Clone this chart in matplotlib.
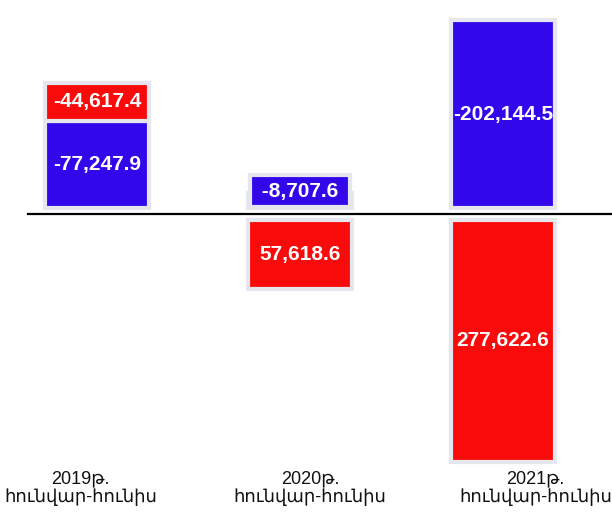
import numpy as np
import matplotlib
matplotlib.use("Agg")
import matplotlib.pyplot as plt
from matplotlib.transforms import offset_copy, blended_transform_factory

# ---- data ----
categories = ["2019թ.\nհունվար-հունիս", "2020թ.\nհունվար-հունիս", "2021թ.\nհունվար-հունիս"]
blue_values = [-77247.9, -8707.6, -202144.5]
red_values = [-44617.4, 57618.6, 277622.6]
value_labels_blue = ["-77,247.9", "-8,707.6", "-202,144.5"]
value_labels_red = ["-44,617.4", "57,618.6", "277,622.6"]

# ---- style ----
RED = "#f90b0b"
BLUE = "#3207ea"
EDGE = "#e6e6ee"
P = 0.8
W, H = 612, 513
AXIS_PX = 214          # axis line position from top (px)
K = 242 / (277622.6 ** P)  # px per transformed unit
GAP = 6                # px gap between bars and axis line
LABEL_SHIFT = [-0.08, 0.05, 0.16]
MIN_LABEL_PX = 24

def fwd(v):
    v = np.asarray(v, dtype=float)
    return np.sign(v) * np.abs(v) ** P

def inv(t):
    t = np.asarray(t, dtype=float)
    return np.sign(t) * np.abs(t) ** (1 / P)

fig = plt.figure(figsize=(W / 100, H / 100), dpi=100)
ax = fig.add_axes([0, 0, 1, 1])
ax.set_yscale("function", functions=(fwd, inv))
ax.set_ylim(float(inv((H - AXIS_PX) / K)), float(inv(-AXIS_PX / K)))
ax.set_xlim(-97 / 203, (W - 97) / 203)
for s in ax.spines.values():
    s.set_visible(False)
ax.set_xticks([])
ax.set_yticks([])

up = offset_copy(ax.transData, fig=fig, x=0, y=GAP, units="dots")
down = offset_copy(ax.transData, fig=fig, x=0, y=-GAP, units="dots")

x = np.arange(len(categories))
width = 0.51
FS = 15
pad = 0.3
pad_px = pad * FS * 100 / 72

font_val = dict(color="white", fontsize=FS, fontweight="bold",
                family=["Liberation Sans", "DejaVu Sans"], ha="center", zorder=5)

for i in range(len(categories)):
    b = blue_values[i]
    r = red_values[i]
    r_bottom = b if np.sign(r) == np.sign(b) else 0.0
    for val, bottom, color, lab in ((b, 0.0, BLUE, value_labels_blue[i]),
                                     (r, r_bottom, RED, value_labels_red[i])):
        tr = up if val < 0 else down
        rect = ax.bar(x[i], val, bottom=bottom, width=width, color=color,
                      edgecolor=EDGE, linewidth=3, zorder=3)[0]
        rect.set_transform(tr)
        hpx = K * abs(float(fwd(bottom + val)) - float(fwd(bottom)))
        if hpx < MIN_LABEL_PX:
            # label does not fit inside the bar: give it a box in the series colour
            sgn = 1 if val < 0 else -1
            tr2 = offset_copy(ax.transData, fig=fig, x=0,
                              y=sgn * (GAP + pad_px + 1), units="dots")
            ax.text(x[i], bottom, " " + lab + " ", transform=tr2,
                    va="bottom" if val < 0 else "top",
                    bbox=dict(boxstyle=f"square,pad={pad}", facecolor=color,
                              edgecolor=EDGE, linewidth=3),
                    **font_val)
        else:
            mid = float(inv((fwd(bottom) + fwd(bottom + val)) / 2))
            ax.text(x[i], mid, lab, transform=tr, va="center", **font_val)

ax.axhline(0, xmin=28 / W, xmax=1, color="black", lw=1.6, zorder=4)

btrans = blended_transform_factory(ax.transData, ax.transAxes)
for i, cat in enumerate(categories):
    ax.text(x[i] + LABEL_SHIFT[i], 1 - 470 / H, cat, transform=btrans,
            ha="center", va="top", fontsize=13, linespacing=1.1,
            family=["Liberation Sans", "DejaVu Sans"], color="#111111")

fig.savefig("out.png", dpi=100)
